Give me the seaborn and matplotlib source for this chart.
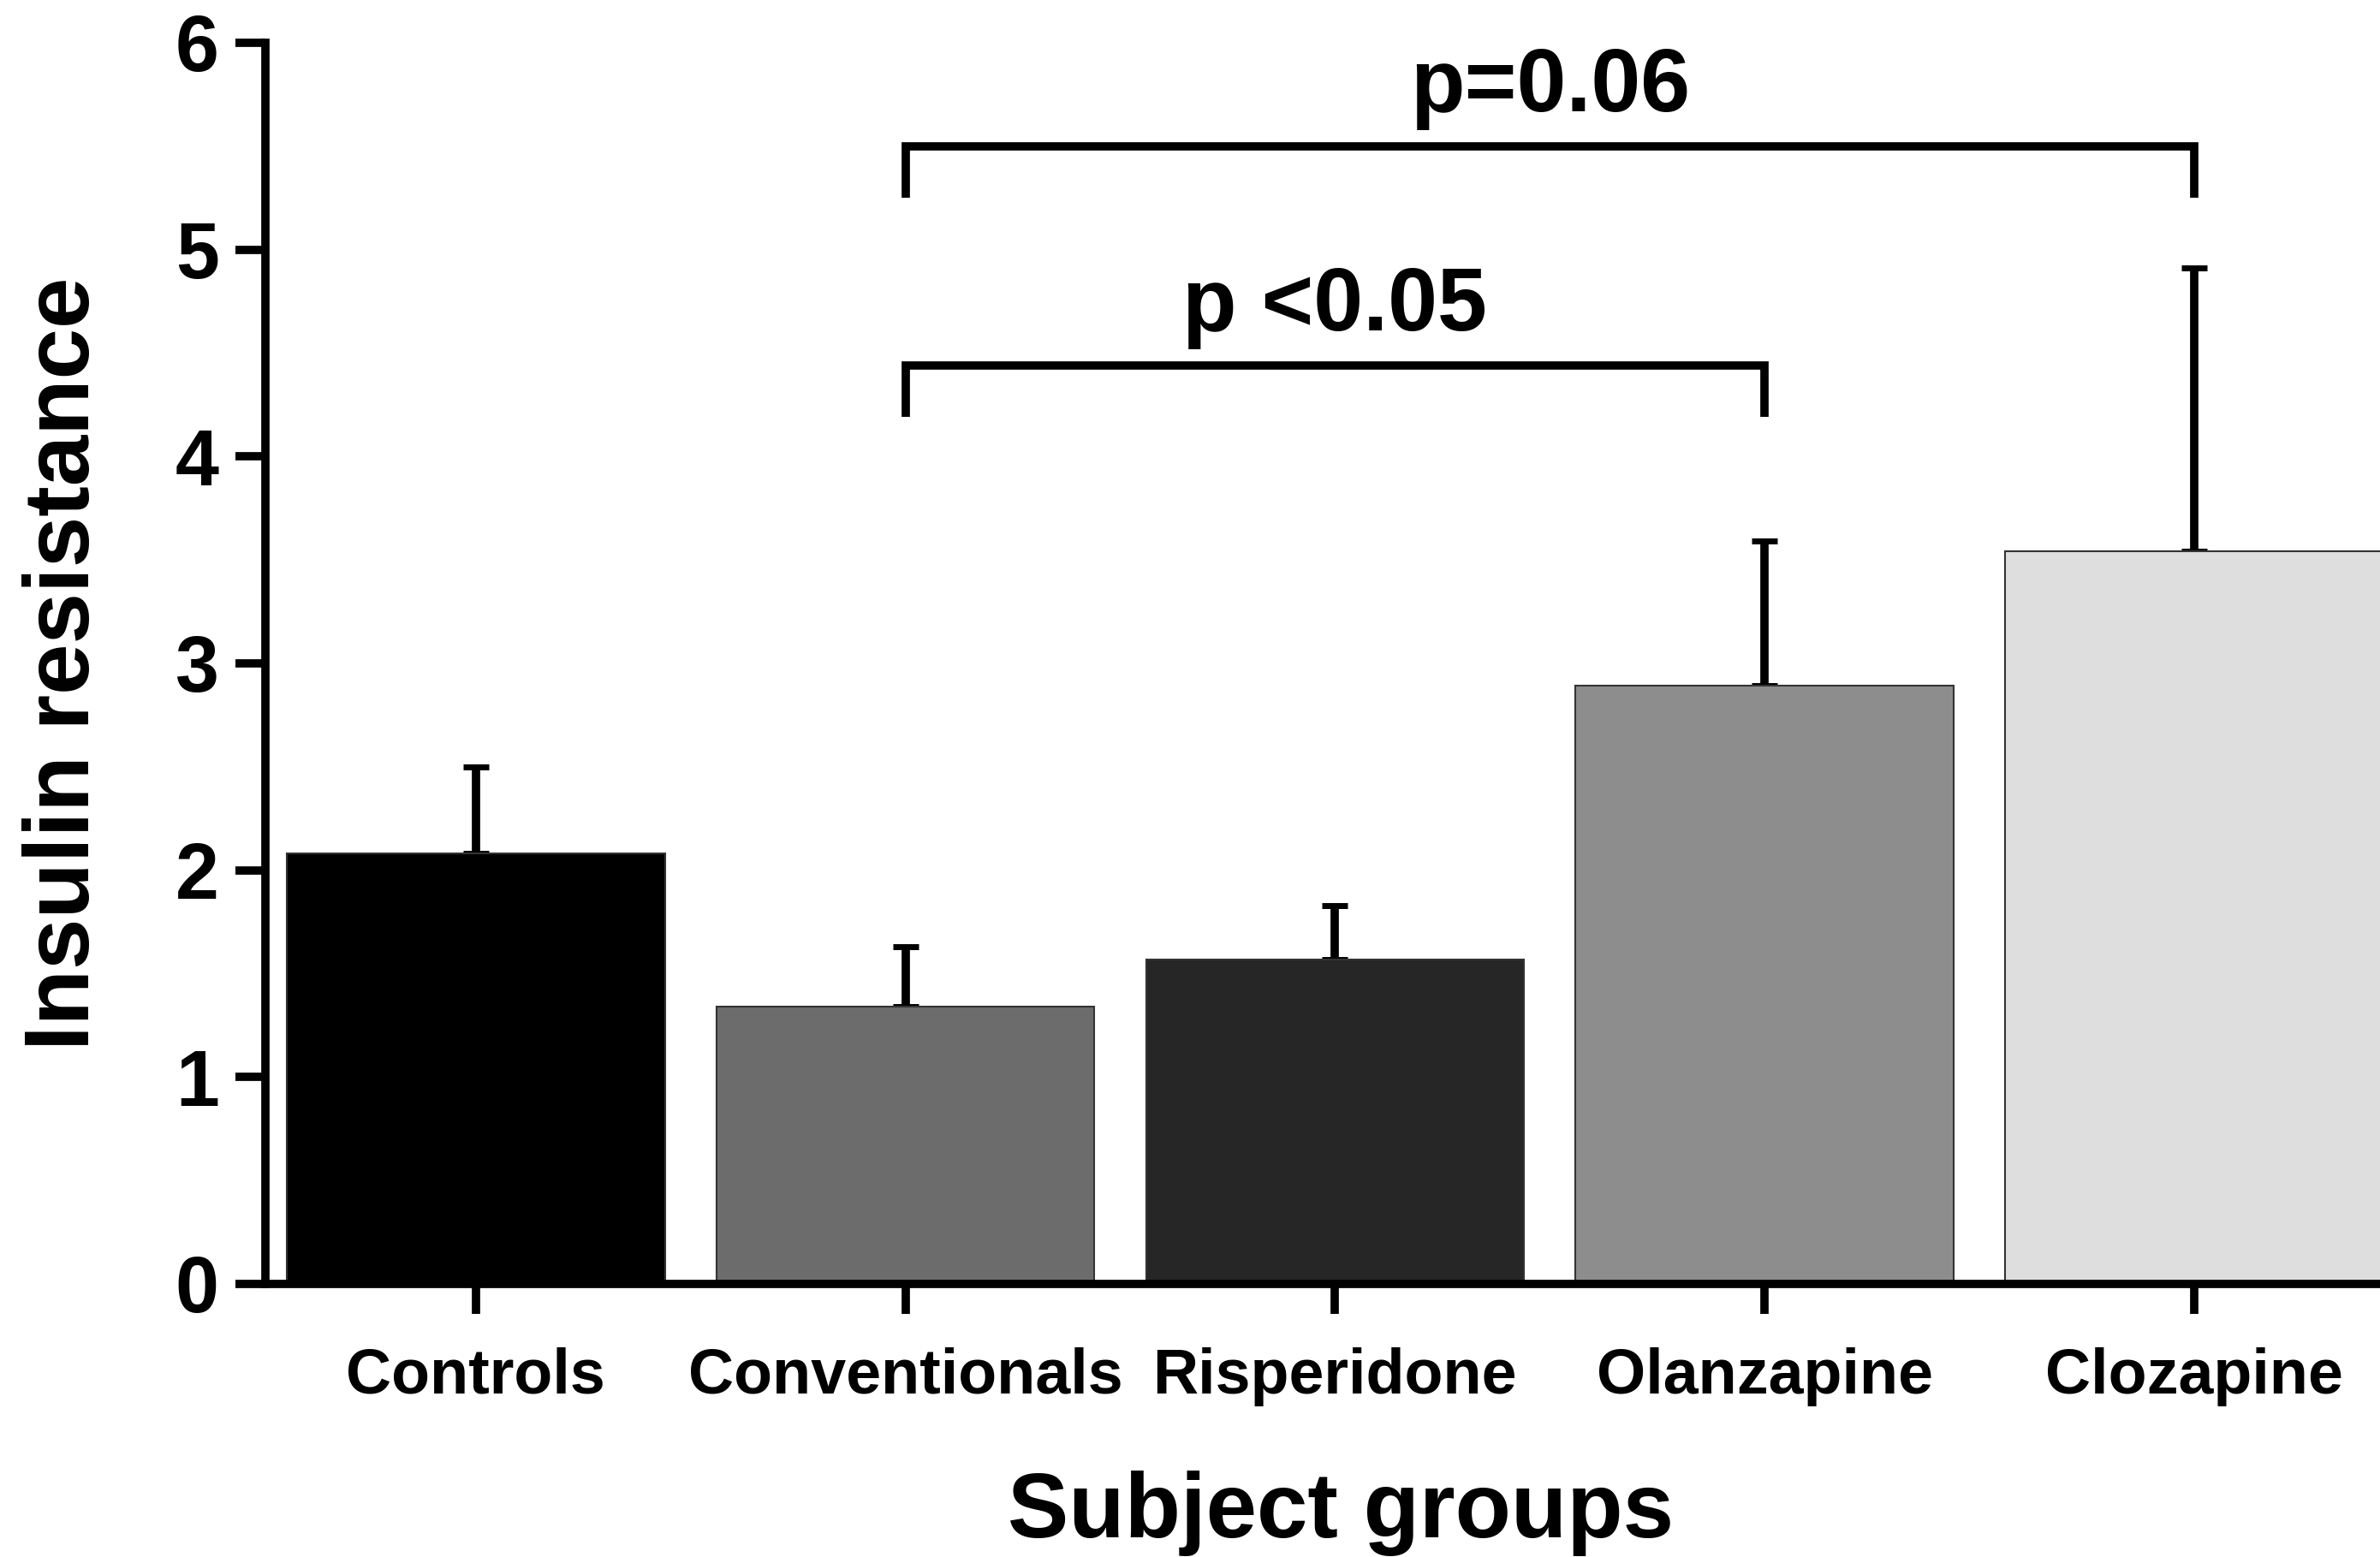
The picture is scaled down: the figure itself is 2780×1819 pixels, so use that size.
"""Insulin resistance by subject group, bar chart with SEM and comparisons."""

import matplotlib
matplotlib.use("Agg")
import matplotlib.pyplot as plt
import numpy as np
import pandas as pd
import seaborn as sns

groups = ["Controls", "Conventionals", "Risperidone", "Olanzapine", "Clozapine"]
means = [2.08, 1.34, 1.57, 2.89, 3.54]
sems = [0.42, 0.29, 0.26, 0.70, 1.37]
bar_colors = ["#000000", "#6c6c6c", "#262626", "#8d8d8d", "#dedede"]

# significance brackets: (left group, right group, bracket height, label)
comparisons = [
    ("Conventionals", "Olanzapine", 4.44, "p <0.05"),
    ("Conventionals", "Clozapine", 5.50, "p=0.06"),
]
y_ticks = [0, 1, 2, 3, 4, 5, 6]

LW = 7


def main() -> None:
    sns.set_style("ticks")
    plt.rcParams["font.family"] = ["Liberation Sans", "DejaVu Sans"]
    plt.rcParams["font.weight"] = "bold"
    for key in ("text.color", "axes.labelcolor", "xtick.color", "ytick.color"):
        plt.rcParams[key] = "black"

    df = pd.DataFrame({"group": groups, "value": means})

    fig = plt.figure(figsize=(27.8, 18.19), dpi=100)
    ax = fig.add_axes([0.1115, 0.1754, 0.9187, 0.7972])

    sns.barplot(data=df, x="group", y="value", hue="group", palette=bar_colors,
                order=groups, hue_order=groups, width=0.88, errorbar=None,
                legend=False, edgecolor="#333333", linewidth=1.5, ax=ax, zorder=2)

    xpos = np.arange(len(groups))
    ax.errorbar(xpos, means, yerr=[np.zeros(len(sems)), sems], fmt="none",
                ecolor="black", elinewidth=LW, capsize=11, capthick=5, zorder=1)

    for left, right, h, label in comparisons:
        x0, x1 = groups.index(left), groups.index(right)
        ax.plot([x0, x0, x1, x1], [h - 0.25, h, h, h - 0.25], color="black",
                lw=LW, solid_joinstyle="miter", solid_capstyle="butt", clip_on=False)
        ax.text((x0 + x1) / 2, h + 0.17, label, ha="center", va="baseline",
                fontsize=75, fontweight="bold")

    ax.set_xlim(-0.49, 4.6)
    ax.set_ylim(0, 6)
    ax.set_yticks(y_ticks)
    sns.despine(ax=ax)
    ax.spines["left"].set_bounds(0, 6)
    for side in ("left", "bottom"):
        ax.spines[side].set_linewidth(LW)
        ax.spines[side].set_color("black")
    ax.tick_params(axis="both", direction="out", length=25, width=LW, color="black")
    ax.tick_params(axis="y", labelsize=66, pad=14)
    ax.tick_params(axis="x", labelsize=53, pad=28)
    for lab in ax.get_xticklabels() + ax.get_yticklabels():
        lab.set_fontweight("bold")

    ax.set_xlabel("Subject groups", fontsize=77, fontweight="bold", va="baseline")
    ax.set_ylabel("Insulin resistance", fontsize=77, fontweight="bold", va="center")
    ax.xaxis.set_label_coords(0.492, -0.204)
    ax.yaxis.set_label_coords(-0.0915, 0.5)

    fig.savefig("out.png", dpi=100)
    plt.close(fig)


if __name__ == "__main__":
    main()
